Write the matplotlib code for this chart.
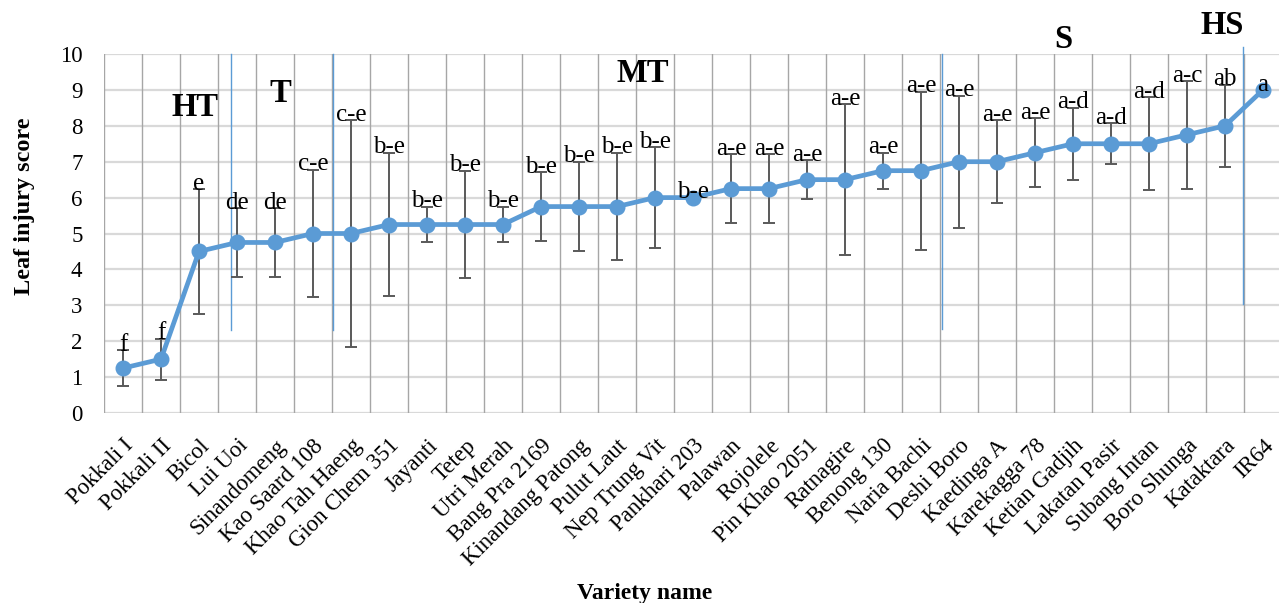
import numpy as np
import matplotlib
matplotlib.use("Agg")
import matplotlib.pyplot as plt

varieties = ["Pokkali I", "Pokkali II", "Bicol", "Lui Uoi", "Sinandomeng", "Kao Saard 108",
             "Khao Tah Haeng", "Gion Chem 351", "Jayanti", "Tetep", "Utri Merah", "Bang Pra 2169",
             "Kinandang Patong", "Pulut Laut", "Nep Trung Vit", "Pankhari 203", "Palawan",
             "Rojolele", "Pin Khao 2051", "Ratnagire", "Benong 130", "Naria Bachi", "Deshi Boro",
             "Kaedinga A", "Karekagga 78", "Ketian Gadjih", "Lakatan Pasir", "Subang Intan",
             "Boro Shunga", "Kataktara", "IR64"]
scores = [1.25, 1.5, 4.5, 4.75, 4.75, 5.0, 5.0, 5.25, 5.25, 5.25, 5.25, 5.75, 5.75, 5.75,
          6.0, 6.0, 6.25, 6.25, 6.5, 6.5, 6.75, 6.75, 7.0, 7.0, 7.25, 7.5, 7.5, 7.5, 7.75, 8.0, 9.0]
errors = [0.5, 0.57, 1.73, 0.96, 0.96, 1.78, 3.16, 2.0, 0.5, 1.5, 0.5, 0.96, 1.25, 1.5,
          1.4, 0.0, 0.96, 0.96, 0.55, 2.1, 0.5, 2.2, 1.84, 1.15, 0.96, 1.0, 0.57, 1.3, 1.5, 1.15, 0.0]
letters = ["f", "f", "e", "de", "de", "c-e", "c-e", "b-e", "b-e", "b-e", "b-e", "b-e", "b-e",
           "b-e", "b-e", "b-e", "a-e", "a-e", "a-e", "a-e", "a-e", "a-e", "a-e", "a-e", "a-e",
           "a-d", "a-d", "a-d", "a-c", "ab", "a"]

group_names = ["HT", "T", "MT", "S", "HS"]
group_label_x = [1.89, 4.13, 13.68, 24.74, 28.92]
group_label_y = [8.5, 8.9, 9.45, 10.4, 10.78]
divider_x = [2.84, 5.53, 21.55, 29.47]
divider_bottom = [2.3, 2.3, 2.35, 3.05]
divider_top = [10.0, 10.0, 10.0, 10.2]

SERIF = ["Liberation Serif", "DejaVu Serif"]
plt.rcParams["font.family"] = SERIF

fig = plt.figure(figsize=(12.79, 6.03), dpi=100)
ax = fig.add_axes([104 / 1279, 190 / 603, 1178 / 1279, 359 / 603])
x = np.arange(len(varieties))
ax.set_xlim(-0.5, len(varieties) - 0.5)
ax.set_ylim(0, 10)

for yv in range(0, 11):
    ax.axhline(yv, color="#D9D9D9", lw=1.6, zorder=1)
for xv in np.arange(-0.5, len(varieties), 1.0):
    ax.axvline(xv, color="#A6A6A6", lw=1.0, zorder=1)
for s in ax.spines.values():
    s.set_visible(False)

ax.errorbar(x, scores, yerr=errors, fmt="none", ecolor="#595959", elinewidth=1.4,
            capsize=4, capthick=1.4, zorder=3)
ax.plot(x, scores, color="#5B9BD5", lw=3.4, marker="o", ms=10.5, zorder=4)

for xi, m, e, t in zip(x, scores, errors, letters):
    ax.text(xi, m + e + 0.15, t, ha="center", va="center", fontsize=18, zorder=5)

for dx, b, t in zip(divider_x, divider_bottom, divider_top):
    ax.plot([dx, dx], [b, t], color="#5B9BD5", lw=1.0, zorder=2, clip_on=False)

for n, gx, gy in zip(group_names, group_label_x, group_label_y):
    ax.text(gx, gy, n, ha="center", va="center", fontsize=23.5, fontweight="bold", clip_on=False)

ax.set_yticks(range(0, 11))
ax.set_xticks(x)
ax.set_xticklabels(varieties, rotation=45, ha="right", va="top", rotation_mode="anchor",
                   fontsize=16.5)
ax.tick_params(axis="both", length=0)
ax.tick_params(axis="y", pad=15.5, labelsize=16.5)
ax.tick_params(axis="x", pad=16)

fig.text(25 / 1279, 1 - 206 / 603, "Leaf injury score", rotation=90, ha="center", va="center",
         fontsize=17.5, fontweight="bold")
fig.text(645 / 1279, 1 - 594 / 603, "Variety name", ha="center", va="center",
         fontsize=17, fontweight="bold")

fig.savefig("out.png", dpi=100)
